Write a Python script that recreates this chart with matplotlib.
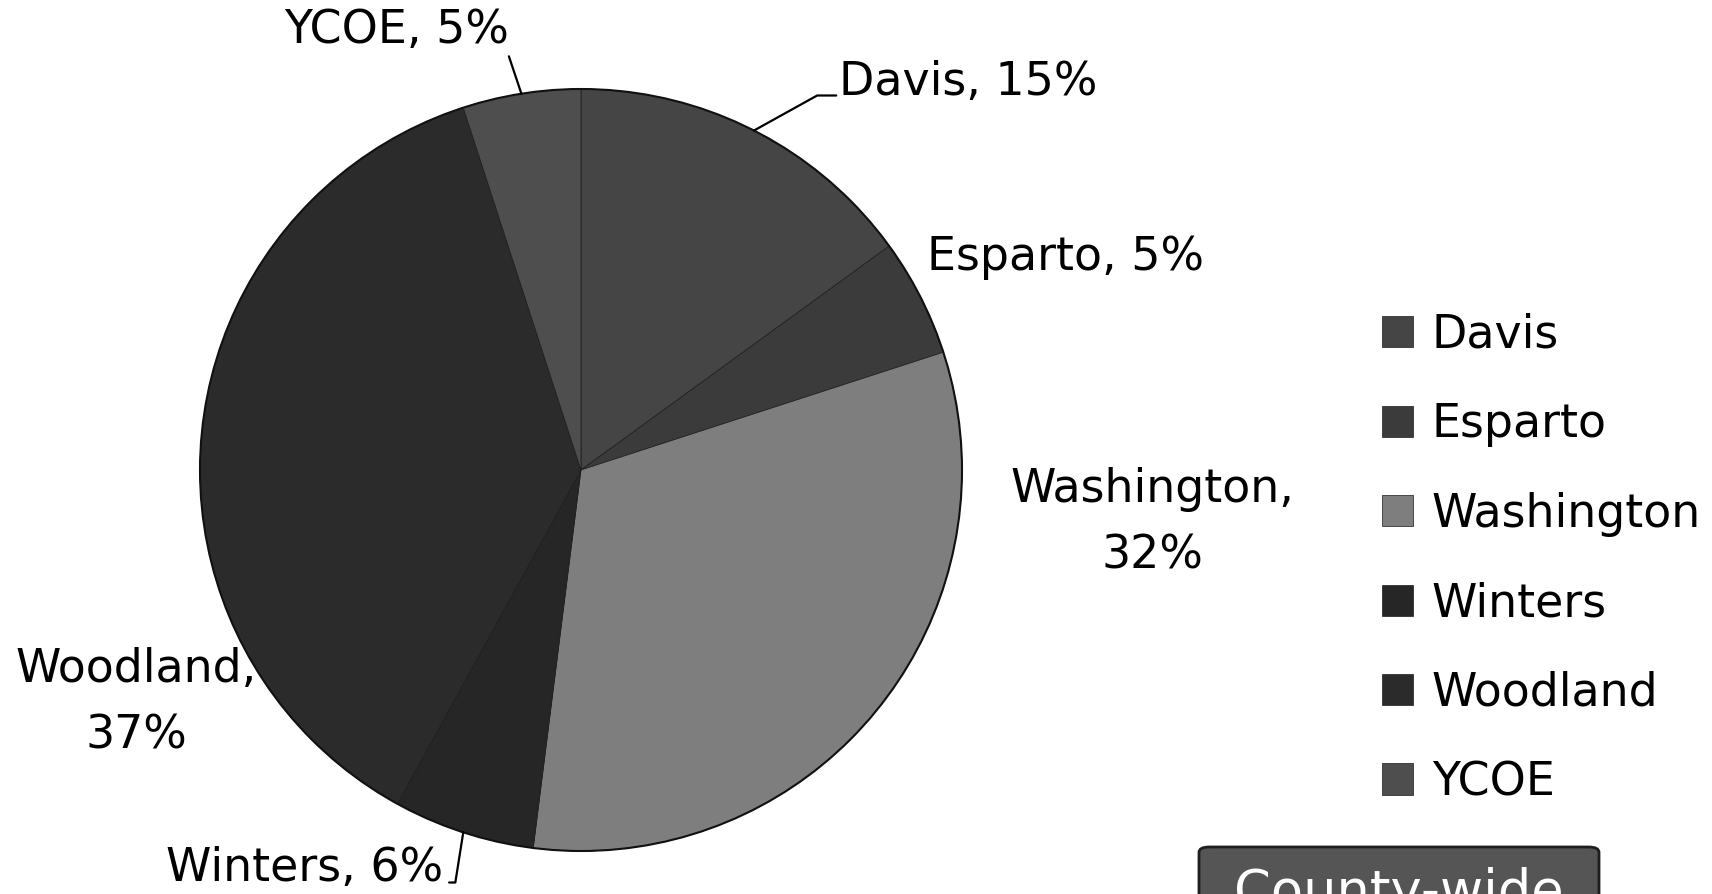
import numpy as np
import matplotlib.pyplot as plt
from matplotlib.patches import FancyBboxPatch

districts = ['Davis', 'Esparto', 'Washington', 'Winters', 'Woodland', 'YCOE']
shares = [15, 5, 32, 6, 37, 5]
colors = ['#454545', '#3b3b3b', '#7e7e7e', '#262626', '#2b2b2b', '#4e4e4e']

W, H = 1712, 894
cx, cy, r = 581, 470, 381   # pie centre / radius in pixels


def px(x, y):
    # pixel position (from top-left) -> data coords where the pie has radius 1
    return (x - cx) / r, (cy - y) / r


fig = plt.figure(figsize=(W / 100, H / 100), dpi=100)
ax = fig.add_axes([0, 0, 1, 1])
plt.rcParams['font.family'] = ['DejaVu Sans']

wedges, _ = ax.pie(shares, colors=colors, startangle=90, counterclock=False,
                   radius=1, wedgeprops=dict(edgecolor='#1a1a1a', linewidth=0.5))
# darker rim round the pie
rim = plt.Circle((0, 0), 1, fill=False, edgecolor='#111111', linewidth=1.5)
ax.add_patch(rim)
ax.set_xlim(-cx / r, (W - cx) / r)
ax.set_ylim((cy - H) / r, cy / r)
ax.set_aspect('equal')
ax.axis('off')

fs = 33


def edge(i):
    # point on the rim at the middle of wedge i
    w = wedges[i]
    a = np.deg2rad((w.theta1 + w.theta2) / 2)
    return np.cos(a), np.sin(a)


lab = [f'{d}, {s}%' for d, s in zip(districts, shares)]

# Davis, with elbow leader
ax.annotate(lab[0], xy=edge(0), xytext=px(839, 82), ha='left', va='center', fontsize=fs,
            arrowprops=dict(arrowstyle='-', color='black', lw=1.6, shrinkA=0, shrinkB=0,
                            relpos=(-0.01, 0.2),
                            connectionstyle='angle,angleA=0,angleB=29,rad=0'))
# Esparto
ax.text(*px(927, 257), lab[1], ha='left', va='center', fontsize=fs)
# Washington
ax.text(*px(1152, 523), f'{districts[2]},\n{shares[2]}%', ha='center', va='center',
        multialignment='center', linespacing=1.6, fontsize=fs)
# Winters, with hook leader
ax.annotate(lab[3], xy=edge(3), xytext=px(305, 869), ha='center', va='center', fontsize=fs,
            arrowprops=dict(arrowstyle='-', color='black', lw=1.6, shrinkA=0, shrinkB=0,
                            relpos=(1.02, 0.2),
                            connectionstyle='angle,angleA=0,angleB=81,rad=0'))
# Woodland
ax.text(*px(136, 703), f'{districts[4]},\n{shares[4]}%', ha='center', va='center',
        multialignment='center', linespacing=1.62, fontsize=fs)
# YCOE, straight leader
ax.annotate(lab[5], xy=edge(5), xytext=px(397, 31), ha='center', va='center', fontsize=fs,
            arrowprops=dict(arrowstyle='-', color='black', lw=1.6, shrinkA=0, shrinkB=0,
                            relpos=(0.99, 0.05)))

ax.legend(wedges, districts, loc='center left', frameon=False, fontsize=fs,
          bbox_to_anchor=(1382 / W, 1 - 559 / H), bbox_transform=fig.transFigure,
          borderpad=0, borderaxespad=0, handlelength=0.67, handleheight=0.67,
          handletextpad=0.42, labelspacing=0.97)

# "County-wide" button, cut off at the bottom edge
btn = FancyBboxPatch((1199 / W, -0.06), 400 / W, 47 / H + 0.06,
                     boxstyle='round,pad=0,rounding_size=0.006',
                     transform=fig.transFigure, facecolor='#555555',
                     edgecolor='#1e1e1e', linewidth=2)
fig.patches.append(btn)
fig.text(1399 / W, -14 / H, 'County-wide', ha='center', va='baseline',
         color='white', fontsize=38)

fig.savefig('out.png', dpi=100)
